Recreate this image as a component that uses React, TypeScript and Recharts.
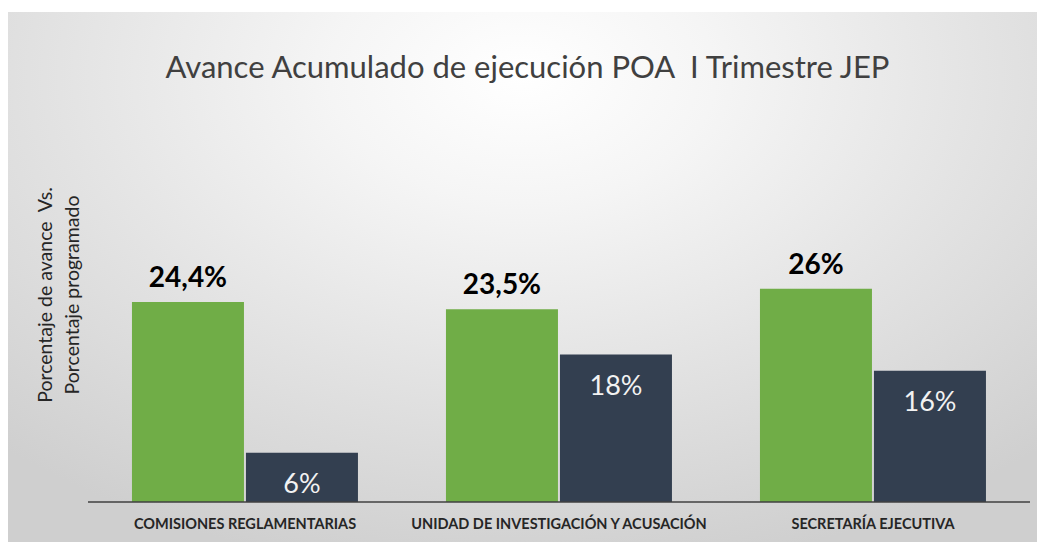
import React from 'react';
import { Bar, BarChart, LabelList, XAxis, YAxis } from 'recharts';

const categories = [
  'COMISIONES REGLAMENTARIAS',
  'UNIDAD DE INVESTIGACIÓN Y ACUSACIÓN',
  'SECRETARÍA  EJECUTIVA',
];
const avance = [24.4, 23.5, 26];
const programado = [6, 18, 16];
const avanceLabels = ['24,4%', '23,5%', '26%'];
const programadoLabels = ['6%', '18%', '16%'];

const colors = {
  green: '#70ad47',
  navy: '#333f50',
  text: '#262626',
  title: '#404040',
  axis: '#404040',
};

const font = 'Lato, "Open Sans", sans-serif';

const data = categories.map((name, i) => ({
  name,
  avance: avance[i],
  programado: programado[i],
  avanceLabel: avanceLabels[i],
  programadoLabel: programadoLabels[i],
}));

export default function App() {
  return (
    <div style={{ paddingTop: 12, paddingLeft: 8 }}>
      <style>{'body{margin:0;overflow:hidden;background:#fff}'}</style>
      <div
        style={{
          position: 'relative',
          width: 1029,
          height: 530,
          fontFamily: font,
          background:
            'radial-gradient(ellipse 75% 95% at 50% 12%, #ffffff 0%, #f5f5f5 25%, #e3e3e3 60%, #cfcfcf 100%)',
        }}
      >
        <div
          style={{
            position: 'absolute',
            left: 10,
            right: 0,
            top: 35,
            textAlign: 'center',
            fontSize: 31,
            color: colors.title,
            whiteSpace: 'pre',
          }}
        >
          Avance Acumulado de ejecución POA  I Trimestre JEP
        </div>
        <div
          style={{
            position: 'absolute',
            left: 50,
            top: 283,
            transform: 'translate(-50%, -50%) rotate(-90deg)',
            whiteSpace: 'pre',
            textAlign: 'center',
            fontSize: 19.5,
            lineHeight: '27px',
            color: colors.text,
          }}
        >
          {'Porcentaje de avance  Vs.\nPorcentaje programado'}
        </div>
        <BarChart
          width={1029}
          height={530}
          data={data}
          margin={{ top: 244, right: 7, left: 80, bottom: 0 }}
          barCategoryGap="14%"
          barGap={2}
          style={{ position: 'absolute', left: 0, top: 0 }}
        >
          <XAxis
            dataKey="name"
            height={40}
            tickLine={false}
            tickMargin={11}
            axisLine={{ stroke: colors.axis, strokeWidth: 1.5 }}
            tick={{
              fill: colors.text,
              fontSize: 14.5,
              fontWeight: 700,
              fontFamily: font,
              style: { whiteSpace: 'pre' },
            }}
            interval={0}
          />
          <YAxis hide domain={[0, 30]} />
          <Bar dataKey="avance" fill={colors.green} isAnimationActive={false}>
            <LabelList
              dataKey="avanceLabel"
              position="top"
              offset={15}
              fill="#000"
              fontSize={28}
              fontWeight={700}
              fontFamily={font}
            />
          </Bar>
          <Bar dataKey="programado" fill={colors.navy} isAnimationActive={false}>
            <LabelList
              dataKey="programadoLabel"
              position="insideTop"
              offset={21}
              fill="#f2f2f2"
              fontSize={27}
              fontFamily={font}
            />
          </Bar>
        </BarChart>
      </div>
    </div>
  );
}
